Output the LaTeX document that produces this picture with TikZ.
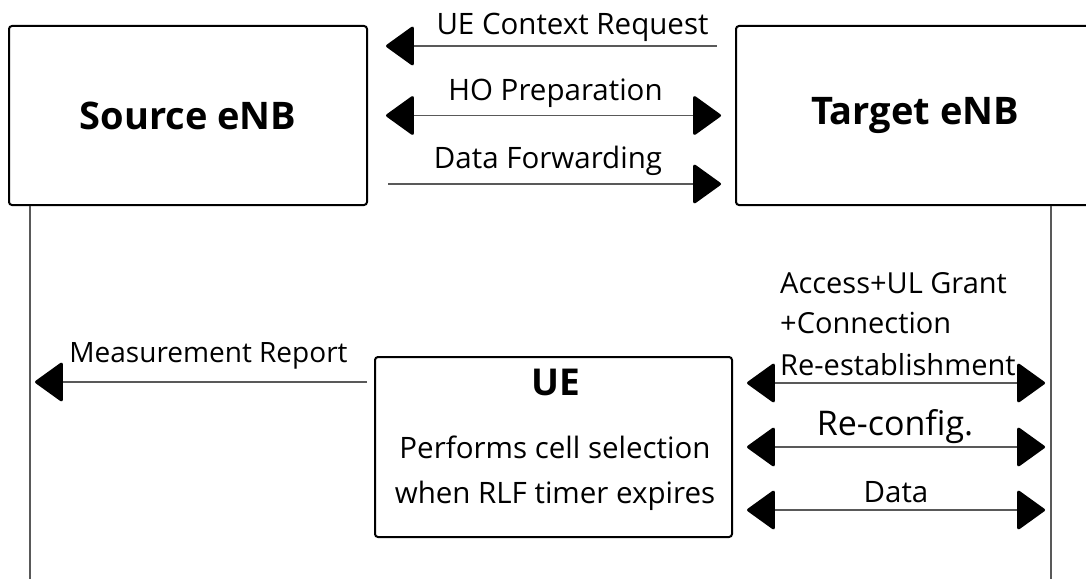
\documentclass[tikz,border=0pt]{standalone}
\usepackage{fontspec}
\setmainfont{Open Sans}
\usetikzlibrary{arrows.meta,positioning}
\tikzset{%
  enb box/.style={draw, line width=2pt, rounded corners=3pt,
    minimum width=358pt, minimum height=179pt,
    font=\fontsize{38}{44}\selectfont\bfseries},
  ue box/.style={draw, line width=2pt, rounded corners=3pt,
    minimum width=357pt, minimum height=180pt},
  life line/.style={line width=1.5pt, black!65},
  msg/.style={line width=1.5pt, black!65,
    >={Triangle[length=29pt, width=41pt, round, line width=3pt, color=black]}},
  msg text/.style={inner sep=0pt, anchor=base, text=black, font=\fontsize{29.5}{35}\selectfont},
  big text/.style={msg text, font=\fontsize{34}{40}\selectfont},
  step text/.style={inner sep=0pt, anchor=base west, text=black, font=\fontsize{29}{34}\selectfont}
}
\begin{document}
\begin{tikzpicture}[x=1pt, y=-1pt]
	\useasboundingbox (0,0) rectangle (1086,578);
	\node[enb box] (source) at (188,115.5) {Source eNB};
	\node[enb box] (target) at (915,115.5) {Target eNB};
	\node[ue box] (ue) at (553.5,447) {};
	\node[msg text, font=\fontsize{37}{44}\selectfont\bfseries] (ue name) at (556,395) {UE};
	\node[msg text] (ue task) at (555,458) {Performs cell selection};
	\node[msg text] (ue task2) at (555,503) {when RLF timer expires};
	% lifelines
	\coordinate (src life) at ([xshift=22pt]source.south west);
	\coordinate (tgt life) at ([xshift=136pt]target.south);
	\draw[life line] (src life) -- ++(0,373);
	\draw[life line] (tgt life) -- ++(0,373);
	% eNB to eNB
	\coordinate[above right=69.5pt and 18pt of source.east] (ctx start);
	\coordinate[right=18pt of source.east] (ho start);
	\coordinate[below right=68.5pt and 20pt of source.east] (df start);
	\draw[msg, <-, shorten >=18pt] (ctx start) -- (ctx start -| target.west)
		node[msg text, midway, xshift=12pt, yshift=11pt] (ctx text) {UE Context Request};
	\draw[msg, <->, shorten >=14pt] (ho start) -- (ho start -| target.west)
		node[msg text, midway, xshift=-5pt, yshift=15pt] (ho text) {HO Preparation};
	\draw[msg, ->, shorten >=14pt] (df start) -- (df start -| target.west)
		node[msg text, midway, xshift=-13.5pt, yshift=16pt] (df text) {Data Forwarding};
	% UE to source
	\coordinate[above left=65pt and 7pt of ue.west] (mr start);
	\draw[msg, ->, shorten >=5pt] (mr start) -- (mr start -| src life)
		node[msg text, midway, xshift=10pt, yshift=20pt, font=\fontsize{28}{33}\selectfont] (mr text) {Measurement Report};
	% UE to target
	\coordinate[above right=64pt and 14pt of ue.east] (acc start);
	\coordinate[right=14pt of ue.east] (cfg start);
	\coordinate[below right=63pt and 14pt of ue.east] (data start);
	\draw[msg, <->, shorten >=6pt] (acc start) -- (acc start -| tgt life);
	\node[step text] (acc text3) at ([xshift=33pt, yshift=8pt]acc start) {Re-establishment};
	\node[step text] (acc text2) at ([yshift=42pt]acc text3.base west) {+Connection};
	\node[step text] (acc text1) at ([yshift=40pt]acc text2.base west) {Access+UL Grant};
	\draw[msg, <->, shorten >=6pt] (cfg start) -- (cfg start -| tgt life)
		node[big text, midway, xshift=-4pt, yshift=12pt] (cfg text) {Re-config.};
	\draw[msg, <->, shorten >=6pt] (data start) -- (data start -| tgt life)
		node[msg text, midway, xshift=-3pt, yshift=8pt] (data text) {Data};
\end{tikzpicture}
\end{document}
